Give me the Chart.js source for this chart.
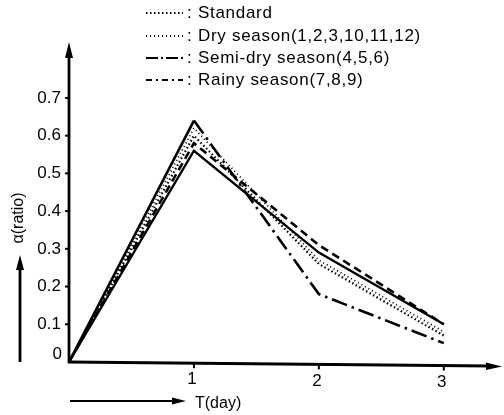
<!DOCTYPE html>
<html><head><meta charset="utf-8">
<script src="https://cdn.jsdelivr.net/npm/chart.js@4"></script>
<style>html,body{margin:0;padding:0;background:#fff}#c{display:block}</style>
</head><body>
<canvas id="c" width="504" height="415"></canvas>
<script>
// ---- data ----
const days = [0, 1, 2, 3];
const standard  = [0, 0.60, 0.26, 0.07];
const drySeason = [0, 0.62, 0.27, 0.08];
const semiDry   = [0, 0.64, 0.18, 0.05];
const rainy     = [0, 0.58, 0.31, 0.10];
const solidLine = [0, 0.56, 0.29, 0.10];
const yTicks = [0, 0.1, 0.2, 0.3, 0.4, 0.5, 0.6, 0.7];
const yTickLabels = ['0', '0.1', '0.2', '0.3', '0.4', '0.5', '0.6', '0.7'];
const xTicks = [1, 2, 3];
const xTickLabels = ['1', '2', '3'];
const legendLabels = ['Standard', 'Dry season(1,2,3,10,11,12)', 'Semi-dry season(4,5,6)', 'Rainy season(7,8,9)'];
const xTitle = 'T(day)';
const yTitle = 'α(ratio)';

const pts = arr => days.map((d, i) => ({x: d, y: arr[i]}));
const FONT = '"Liberation Sans", Arial, sans-serif';

const styles = [
  {dash: [1.5, 2.5], width: 2.2, firstSolid: false},
  {dash: [1, 3], width: 1.8, firstSolid: false},
  {dash: [16, 5, 2.5, 5], width: 2.6, firstSolid: true},
  {dash: [8, 5], width: 2.6, firstSolid: false},
  {dash: [], width: 2.4, firstSolid: false}
];

const decor = {
  id: 'decor',
  afterDraw(chart) {
    const ctx = chart.ctx;
    const xs = chart.scales.x, ys = chart.scales.y;
    const x0 = xs.getPixelForValue(0), y0 = ys.getPixelForValue(0);
    ctx.save();
    ctx.strokeStyle = '#000'; ctx.fillStyle = '#000';
    ctx.lineCap = 'butt';
    // y axis
    ctx.lineWidth = 2.8;
    ctx.beginPath(); ctx.moveTo(x0, y0 + 1); ctx.lineTo(x0, 52); ctx.stroke();
    ctx.beginPath(); ctx.moveTo(x0, 42); ctx.lineTo(x0 - 4, 58); ctx.lineTo(x0 + 4, 58); ctx.closePath(); ctx.fill();
    // x axis
    ctx.beginPath(); ctx.moveTo(x0 - 1, y0); ctx.lineTo(490, y0 + 4); ctx.stroke();
    ctx.beginPath(); ctx.moveTo(502, y0 + 4.5); ctx.lineTo(486, y0 + 0.5); ctx.lineTo(486, y0 + 8); ctx.closePath(); ctx.fill();
    // y ticks
    ctx.lineWidth = 2;
    ctx.font = '17px ' + FONT;
    ctx.textAlign = 'right'; ctx.textBaseline = 'middle';
    yTicks.forEach((v, i) => {
      const y = ys.getPixelForValue(v);
      if (i > 0) { ctx.beginPath(); ctx.moveTo(x0 - 4, y); ctx.lineTo(x0, y); ctx.stroke(); }
      ctx.fillText(yTickLabels[i], i === 0 ? 62 : 61, i === 0 ? y - 8 : y);
    });
    // x ticks
    ctx.textAlign = 'center'; ctx.textBaseline = 'top';
    xTicks.forEach((v, i) => {
      const x = xs.getPixelForValue(v);
      const yy = y0 + (x - x0) / (490 - x0) * 4;
      ctx.beginPath(); ctx.moveTo(x, yy); ctx.lineTo(x, yy + 5); ctx.stroke();
      ctx.fillText(xTickLabels[i], x - 2, yy + 8);
    });
    // bottom arrow + title
    ctx.lineWidth = 2;
    ctx.beginPath(); ctx.moveTo(70, 401); ctx.lineTo(176, 401); ctx.stroke();
    ctx.beginPath(); ctx.moveTo(186, 401); ctx.lineTo(172, 397.5); ctx.lineTo(172, 404.5); ctx.closePath(); ctx.fill();
    ctx.textAlign = 'left'; ctx.textBaseline = 'middle';
    ctx.font = '16px ' + FONT;
    ctx.fillText(xTitle, 195, 404);
    // left arrow + title
    ctx.lineWidth = 2.8;
    ctx.beginPath(); ctx.moveTo(20, 362); ctx.lineTo(20, 266); ctx.stroke();
    ctx.beginPath(); ctx.moveTo(20, 255); ctx.lineTo(16, 270); ctx.lineTo(24, 270); ctx.closePath(); ctx.fill();
    ctx.save();
    ctx.translate(19, 218); ctx.rotate(-Math.PI / 2);
    ctx.textAlign = 'center'; ctx.textBaseline = 'middle';
    ctx.font = '16px ' + FONT;
    ctx.fillText(yTitle, 0, 0);
    ctx.restore();
    // legend
    const rows = [13, 36, 58, 80];
    ctx.font = '17px ' + FONT;
    ctx.letterSpacing = '0.7px';
    legendLabels.forEach((lab, i) => {
      const st = styles[i];
      ctx.lineWidth = Math.min(st.width, 2.2);
      ctx.setLineDash(i === 2 ? [12, 3, 2, 3] : (i === 3 ? [6, 4, 2, 4] : st.dash));
      ctx.beginPath(); ctx.moveTo(146, rows[i]); ctx.lineTo(183, rows[i]); ctx.stroke();
      ctx.setLineDash([]);
      ctx.textAlign = 'left'; ctx.textBaseline = 'middle';
      ctx.fillText(':', 187, rows[i]);
      ctx.fillText(lab, 198, rows[i]);
    });
    ctx.restore();
  }
};

const series = [standard, drySeason, semiDry, rainy, solidLine];
const names = legendLabels.concat(['']);
new Chart(document.getElementById('c'), {
  type: 'line',
  data: {
    datasets: series.map((s, i) => ({
      label: names[i],
      data: pts(s),
      borderColor: '#000',
      borderWidth: styles[i].width,
      borderDash: styles[i].dash,
      segment: styles[i].firstSolid ? {borderDash: c => c.p0DataIndex === 0 ? [] : styles[i].dash} : undefined,
      pointRadius: 0,
      tension: 0,
      fill: false
    }))
  },
  options: {
    responsive: false,
    animation: false,
    layout: {padding: {left: 69, right: 4, top: 47, bottom: 53}},
    plugins: {legend: {display: false}, tooltip: {enabled: false}},
    scales: {
      x: {type: 'linear', min: 0, max: 3.45, display: false},
      y: {min: 0, max: 0.835, display: false}
    }
  },
  plugins: [decor]
});
</script>
</body></html>
